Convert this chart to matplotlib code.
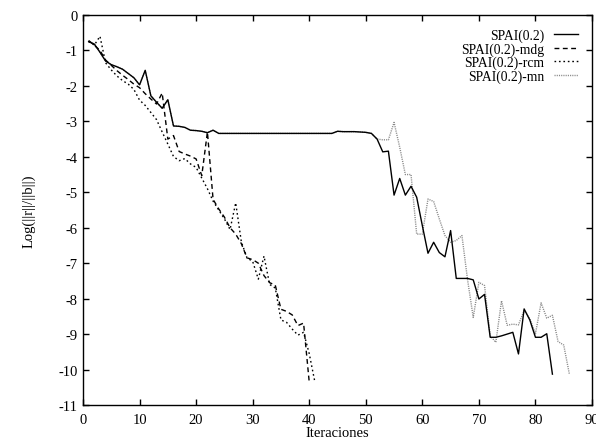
import matplotlib
matplotlib.use('Agg')
import numpy as np
import matplotlib.pyplot as plt
from matplotlib.ticker import FuncFormatter

plt.rcParams['font.family'] = 'Liberation Serif'
plt.rcParams['axes.unicode_minus'] = False

# SPAI(0.2), iterations 1..83
spai = [-0.75, -0.82, -1.05, -1.30, -1.40, -1.46, -1.53, -1.65, -1.77, -1.97,
        -1.56, -2.28, -2.46, -2.63, -2.39, -3.13, -3.14, -3.17, -3.25, -3.26,
        -3.28, -3.32, -3.25, -3.34, -3.34, -3.34, -3.34, -3.34, -3.34, -3.34,
        -3.34, -3.34, -3.34, -3.34, -3.34, -3.34, -3.34, -3.34, -3.34, -3.34,
        -3.34, -3.34, -3.34, -3.34, -3.28, -3.29, -3.29, -3.29, -3.30, -3.31,
        -3.34, -3.50, -3.86, -3.84, -5.08, -4.61, -5.08, -4.83, -5.14, -5.94,
        -6.72, -6.41, -6.70, -6.82, -6.08, -7.43, -7.43, -7.43, -7.47, -8.01,
        -7.88, -9.09, -9.09, -9.05, -9.00, -8.95, -9.56, -8.29, -8.60, -9.09,
        -9.09, -8.99, -10.13]

# SPAI(0.2)-mdg, iterations 1..40
mdg = [-0.72, -0.85, -1.00, -1.27, -1.42, -1.57, -1.70, -1.82, -1.95, -2.05,
       -2.22, -2.37, -2.51, -2.20, -3.50, -3.40, -3.85, -3.92, -3.98, -4.06,
       -4.53, -3.30, -5.20, -5.47, -5.70, -6.00, -6.18, -6.45, -6.85, -6.90,
       -7.00, -7.35, -7.55, -7.62, -8.30, -8.36, -8.46, -8.76, -8.69, -10.35]

# SPAI(0.2)-rcm, iterations 1..41
rcm = [-0.75, -0.85, -0.60, -1.35, -1.55, -1.72, -1.85, -1.95, -2.10, -2.40,
       -2.55, -2.75, -2.95, -3.30, -3.64, -3.99, -4.11, -4.05, -4.20, -4.30,
       -4.60, -4.90, -5.25, -5.50, -5.75, -6.05, -5.30, -6.40, -6.85, -6.95,
       -7.45, -6.80, -7.60, -7.70, -8.60, -8.67, -8.86, -9.03, -8.95, -9.55,
       -10.35]

# SPAI(0.2)-mn follows SPAI(0.2) for the first 52 iterations, then 53..86
mn_tail = [-3.52, -3.52, -3.03, -3.73, -4.50, -4.50, -6.18, -6.18, -5.19, -5.26,
           -5.75, -6.22, -6.41, -6.36, -6.22, -7.47, -8.53, -7.54, -7.63, -9.05,
           -9.23, -8.06, -8.75, -8.72, -8.74, -8.33, -8.57, -8.99, -8.12, -8.55,
           -8.47, -9.21, -9.31, -10.13]
mn = spai[:52] + mn_tail

fig = plt.figure(figsize=(5.96, 4.39), dpi=100)
ax = fig.add_axes([83 / 596, 33 / 439, 509 / 596, 390 / 439])

def iters(vals):
    return np.arange(1, len(vals) + 1)

ax.plot(iters(spai), spai, color='black', lw=1.0, label='SPAI(0.2)', zorder=4)
ax.plot(iters(mdg), mdg, color='black', lw=1.0, dashes=(3.5, 2.5),
        label='SPAI(0.2)-mdg', zorder=3)
ax.plot(iters(rcm), rcm, color='black', lw=1.0, dashes=(1.2, 2.0),
        label='SPAI(0.2)-rcm', zorder=3)
ax.plot(iters(mn), mn, color='#888888', lw=1.0, dashes=(0.8, 0.8),
        label='SPAI(0.2)-mn', zorder=2)

ax.set_xlim(0, 90)
ax.set_ylim(-11, 0)
ax.set_xticks(range(0, 91, 10))
ax.set_yticks(range(-11, 1))
ax.yaxis.set_major_formatter(FuncFormatter(lambda v, p: f"{int(v)}"))
ax.tick_params(direction='in', top=True, right=True, length=4, width=1,
               labelsize=10.5)
ax.tick_params(axis='y', pad=4)
ax.tick_params(axis='x', pad=6)
for s in ax.spines.values():
    s.set_linewidth(1.0)

ax.set_xlabel('Iteraciones', fontsize=10.5, labelpad=0)
ax.set_ylabel('Log(||r||/||b||)', fontsize=10.5, labelpad=16)

ax.legend(loc='upper right', frameon=False, markerfirst=False, fontsize=9.8,
          handlelength=1.8, labelspacing=0.0, handletextpad=0.7,
          borderaxespad=0.6)

fig.savefig('out.png', dpi=100)
